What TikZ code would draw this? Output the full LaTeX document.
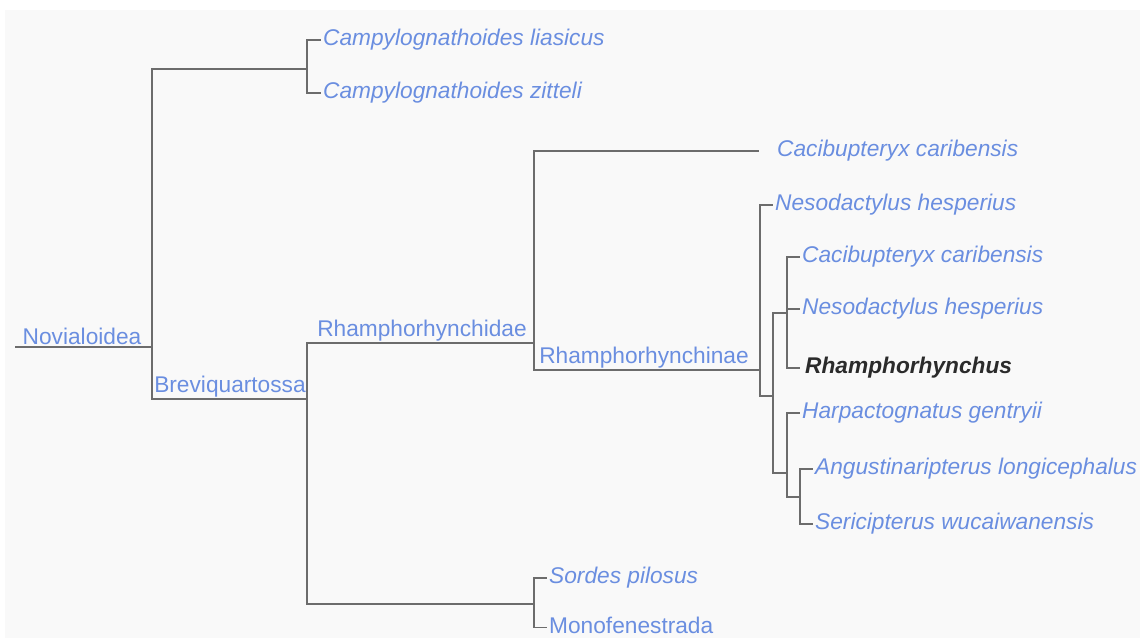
\documentclass[tikz,border=0pt]{standalone}
\usepackage{fontspec}
\setmainfont{Liberation Sans}
\definecolor{bg}{HTML}{F9F9F9}
\definecolor{taxon}{HTML}{6A8EE0}
\definecolor{branch}{HTML}{6C6C6C}
\definecolor{focus}{HTML}{2B2B2B}
\begin{document}
\begin{tikzpicture}[x=1pt,y=-1pt,
  br/.style={draw=branch,line width=1.1pt},
  leaf/.style={anchor=west,inner xsep=2pt,inner ysep=0pt,text=taxon,
    font=\fontsize{22.7}{27}\selectfont\itshape,text height=16pt,text depth=4.5pt},
  clade/.style={anchor=base,inner sep=0pt,text=taxon,font=\fontsize{22.7}{27}\selectfont}]
\useasboundingbox (0,0) rectangle (1140,638);
\fill[bg] (5,10) rectangle (1140,638);

% internal nodes
\coordinate (rootL) at (15,347);
\coordinate (n1) at (152,347);
\coordinate (n2) at (307,69);
\coordinate (n3) at (307,399);
\coordinate (n4) at (534,343);
\coordinate (n5) at (534,604);
\coordinate (n6) at (760,370);
\coordinate (n7) at (773,396);
\coordinate (n8) at (787,313);
\coordinate (n9) at (787,473);
\coordinate (n10) at (800,497);
\coordinate (cacEnd) at (759,151);

% leaves
\node[leaf] (cl) at (321,40) {Campylognathoides liasicus};
\node[leaf] (cz) at (321,93) {Campylognathoides zitteli};
\node[leaf] (cc1) at (775,151) {Cacibupteryx caribensis};
\node[leaf] (nh1) at (773,205) {Nesodactylus hesperius};
\node[leaf] (cc2) at (800,257) {Cacibupteryx caribensis};
\node[leaf] (nh2) at (800,309) {Nesodactylus hesperius};
\node[leaf,inner xsep=5pt,text=focus,font=\fontsize{22.7}{27}\selectfont\bfseries\itshape] (rh) at (800,368) {Rhamphorhynchus};
\node[leaf] (hg) at (800,413) {Harpactognatus gentryii};
\node[leaf] (al) at (813,469) {Angustinaripterus longicephalus};
\node[leaf] (sw) at (813,524) {Sericipterus wucaiwanensis};
\node[leaf] (sp) at (547,578) {Sordes pilosus};
\node[leaf,font=\fontsize{22.7}{27}\selectfont,text height=11pt,text depth=0pt] (mo) at (547,627.5) {Monofenestrada};

% clade labels
\node[clade] (lNov) at (82,344) {Novialoidea};
\node[clade] (lBrev) at (230,392) {Breviquartossa};
\node[clade] (lRhid) at (422,336) {Rhamphorhynchidae};
\node[clade] (lRhin) at (644,363) {Rhamphorhynchinae};

% branches
\draw[br] (rootL) -- (n1);
\draw[br] (n1) |- (n2);
\draw[br] (n1) |- (n3);
\draw[br] (n2) |- (cl.west);
\draw[br] (n2) |- (cz.west);
\draw[br] (n3) |- (n4);
\draw[br] (n3) |- (n5);
\draw[br] (n4) |- (cacEnd);
\draw[br] (n4) |- (n6);
\draw[br] (n5) |- (sp.west);
\draw[br] (n5) |- (mo.west);
\draw[br] (n6) |- (nh1.west);
\draw[br] (n6) |- (n7);
\draw[br] (n7) |- (n8);
\draw[br] (n7) |- (n9);
\draw[br] (n8) |- (cc2.west);
\draw[br] (n8) |- (nh2.west);
\draw[br] (n8) |- (rh.west);
\draw[br] (n9) |- (hg.west);
\draw[br] (n9) |- (n10);
\draw[br] (n10) |- (al.west);
\draw[br] (n10) |- (sw.west);
\end{tikzpicture}
\end{document}
